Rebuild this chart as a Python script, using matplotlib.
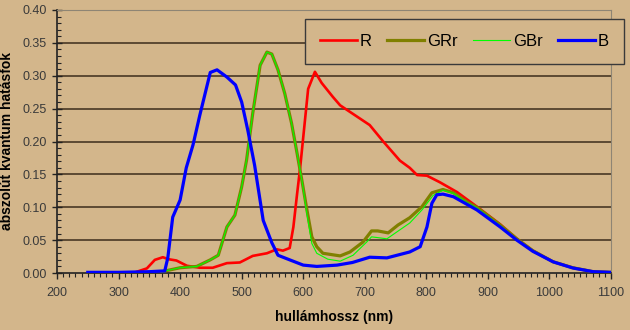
import numpy as np
import matplotlib.pyplot as plt
from matplotlib.ticker import MultipleLocator, FormatStrFormatter

plt.rcParams['font.family'] = ['Liberation Sans', 'DejaVu Sans']

# quantum efficiency curves (wavelength in nm)
r_nm = [330, 346, 359, 372, 381, 394, 411, 432, 453, 476, 497, 518, 541, 557, 567,
        578, 584, 590, 595, 608, 619, 630, 648, 660, 676, 708, 730, 757, 773, 785,
        801, 822, 850, 882, 920, 947, 973, 1006, 1038, 1071, 1100]
r_qe = [0.002, 0.007, 0.020, 0.024, 0.021, 0.019, 0.011, 0.008, 0.008, 0.015, 0.016,
        0.026, 0.030, 0.036, 0.034, 0.038, 0.070, 0.120, 0.160, 0.280, 0.306, 0.289,
        0.268, 0.255, 0.245, 0.225, 0.200, 0.171, 0.160, 0.149, 0.148, 0.138, 0.123,
        0.101, 0.074, 0.052, 0.034, 0.017, 0.008, 0.002, 0.001]

grr_nm = [370, 385, 400, 427, 449, 462, 476, 489, 500, 508, 518, 530, 541, 549, 559,
          570, 581, 590, 598, 606, 614, 622, 632, 660, 676, 697, 711, 721, 738, 754,
          773, 793, 809, 827, 844, 866, 882, 920, 947, 973, 1006, 1038, 1071, 1100]
grr_qe = [0.002, 0.005, 0.008, 0.010, 0.020, 0.027, 0.070, 0.088, 0.131, 0.172, 0.243,
          0.316, 0.336, 0.333, 0.309, 0.273, 0.228, 0.182, 0.140, 0.096, 0.055, 0.040,
          0.030, 0.026, 0.032, 0.047, 0.064, 0.064, 0.061, 0.073, 0.084, 0.101, 0.122,
          0.127, 0.122, 0.108, 0.100, 0.073, 0.052, 0.034, 0.017, 0.008, 0.002, 0.001]

gbr_nm = [370, 385, 400, 427, 449, 462, 476, 489, 500, 508, 518, 530, 541, 549, 559,
          570, 581, 590, 598, 606, 614, 622, 640, 660, 681, 703, 711, 736, 773, 793,
          811, 827, 844, 866, 882, 920, 947, 973, 1006, 1038, 1071, 1100]
gbr_qe = [0.002, 0.005, 0.008, 0.010, 0.020, 0.027, 0.070, 0.088, 0.131, 0.172, 0.243,
          0.316, 0.336, 0.333, 0.309, 0.273, 0.228, 0.182, 0.140, 0.090, 0.045, 0.030,
          0.021, 0.018, 0.027, 0.047, 0.055, 0.052, 0.076, 0.096, 0.118, 0.126, 0.121,
          0.107, 0.099, 0.072, 0.051, 0.034, 0.017, 0.008, 0.002, 0.001]

b_nm = [250, 300, 350, 370, 375, 380, 388, 400, 410, 421, 432, 449, 460, 476, 490,
        500, 510, 521, 535, 549, 559, 578, 600, 622, 655, 680, 708, 736, 773, 790,
        801, 809, 817, 827, 844, 882, 920, 947, 973, 1006, 1038, 1071, 1100]
b_qe = [0.001, 0.001, 0.002, 0.003, 0.003, 0.023, 0.085, 0.111, 0.160, 0.195, 0.240,
        0.305, 0.309, 0.298, 0.286, 0.260, 0.217, 0.164, 0.080, 0.046, 0.027, 0.020,
        0.012, 0.010, 0.012, 0.016, 0.024, 0.023, 0.032, 0.040, 0.070, 0.106, 0.119,
        0.120, 0.116, 0.096, 0.070, 0.050, 0.033, 0.017, 0.0076, 0.002, 0.001]

bg = '#d3b68b'

fig = plt.figure(figsize=(6.3, 3.3), dpi=100, facecolor=bg)
ax = fig.add_axes([57 / 630, 1 - 273 / 330, 554 / 630, 263 / 330], facecolor=bg)

ax.plot(r_nm, r_qe, color='#ff0000', lw=1.9, label='R', zorder=3)
ax.plot(grr_nm, grr_qe, color='#808000', lw=2.3, label='GRr', zorder=3)
ax.plot(gbr_nm, gbr_qe, color='#00ff00', lw=0.8, label='GBr', zorder=4)
ax.plot(b_nm, b_qe, color='#0000ff', lw=2.3, label='B', zorder=5)

ax.set_xlim(200, 1100)
ax.set_ylim(0, 0.40)

# horizontal gridlines, Excel style
for y in np.arange(0.05, 0.36, 0.05):
    ax.axhline(y, color='#5c4a33', lw=1.4, zorder=1)

ax.xaxis.set_major_locator(MultipleLocator(100))
ax.xaxis.set_minor_locator(MultipleLocator(10))
ax.yaxis.set_major_locator(MultipleLocator(0.05))
ax.yaxis.set_minor_locator(MultipleLocator(0.01))
ax.yaxis.set_major_formatter(FormatStrFormatter('%.2f'))

ax.tick_params(axis='x', which='major', direction='out', length=4, width=1,
               color='#222222', labelsize=9, labelcolor='#3a3a3a', pad=6)
ax.tick_params(axis='x', which='minor', direction='out', length=3, width=0.8,
               color='#222222')
ax.tick_params(axis='y', which='major', direction='inout', length=7, width=1,
               color='#222222', labelsize=9, labelcolor='#3a3a3a', pad=4)
ax.tick_params(axis='y', which='minor', direction='in', length=3, width=0.8,
               color='#222222')

ax.spines['left'].set_color('#222222')
ax.spines['bottom'].set_color('#222222')
ax.spines['left'].set_linewidth(1.2)
ax.spines['bottom'].set_linewidth(1.2)
ax.spines['top'].set_color('#8e8574')
ax.spines['right'].set_color('#8e8574')

ax.set_xlabel('hullámhossz (nm)', fontsize=10, fontweight='bold', labelpad=8)
ax.set_ylabel('abszolút kvantum hatásfok', fontsize=10, fontweight='bold', labelpad=6)

leg = fig.legend(loc='lower left', ncol=4, mode='expand',
                 bbox_to_anchor=(305 / 630, 1 - 64 / 330, 319 / 630, 54 / 330),
                 frameon=True, fancybox=False, facecolor=bg, edgecolor='#3a3a3a',
                 fontsize=12, handlelength=2.2, handletextpad=0.2,
                 columnspacing=1.0, borderaxespad=0, borderpad=0.9)
leg.get_frame().set_linewidth(1.0)
leg.get_frame().set_alpha(None)

fig.savefig('out.png', dpi=100, facecolor=bg)
